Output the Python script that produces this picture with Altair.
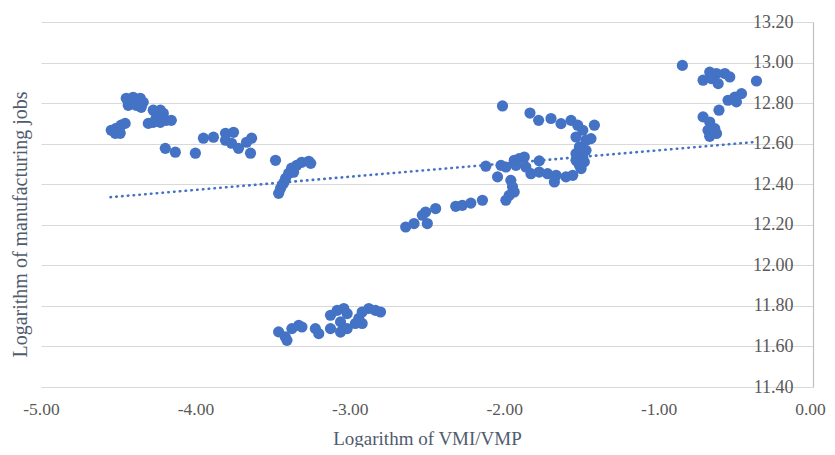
import altair as alt
import pandas as pd

# Logarithm of VMI/VMP (x) and logarithm of manufacturing jobs (y)
vmi_vmp = [
    -4.545, -4.513, -4.481, -4.455, -4.519, -4.487,
    -4.448, -4.403, -4.357, -4.338, -4.435, -4.383, -4.351,
    -4.273, -4.227, -4.208, -4.253, -4.221, -4.188, -4.156, -4.305, -4.273, -4.227,
    -4.195, -4.130, -4.000,
    -3.948, -3.883, -3.805, -3.753, -3.805, -3.766, -3.721, -3.643, -3.636, -3.669,
    -3.481,
    -3.461, -3.448, -3.429, -3.416, -3.396, -3.377, -3.344, -3.312, -3.266, -3.253, -3.364,
    -3.461, -3.418, -3.407, -3.375, -3.331, -3.310, -3.223, -3.201, -3.125, -3.125,
    -3.082, -3.039, -3.017, -3.060, -3.060, -3.017, -2.942, -2.920, -2.877, -2.834,
    -2.801, -2.964, -2.920,
    -2.011, -1.833, -1.777, -1.697, -1.632, -1.567, -1.524, -1.491, -1.416, -1.535,
    -1.470, -1.438, -1.513, -1.470, -1.535, -1.491, -1.535, -1.481, -1.513, -1.502,
    -1.556, -1.600, -1.664, -1.675, -1.719, -1.773, -1.773, -1.827, -1.860, -1.870,
    -1.903, -1.935, -1.924, -1.989, -2.021, -2.119, -2.043, -1.957, -1.946, -1.935,
    -1.968, -1.989,
    -2.444, -2.509, -2.530, -2.498, -2.584, -2.638, -2.314, -2.271, -2.216, -2.141,
    -0.846, -0.669, -0.625, -0.571, -0.539, -0.712, -0.658, -0.614, -0.366, -0.463,
    -0.506, -0.550, -0.496, -0.609, -0.712, -0.669, -0.636, -0.680, -0.669, -0.625,
]
mfg_jobs = [
    12.666, 12.676, 12.691, 12.700, 12.651, 12.651,
    12.824, 12.829, 12.824, 12.804, 12.789, 12.789, 12.779,
    12.765, 12.765, 12.750, 12.730, 12.725, 12.715, 12.715, 12.700, 12.705, 12.705,
    12.577, 12.558, 12.553,
    12.627, 12.632, 12.651, 12.656, 12.617, 12.602, 12.577, 12.553, 12.627, 12.607,
    12.518,
    12.355, 12.380, 12.405, 12.429, 12.454, 12.479, 12.493, 12.508, 12.513, 12.503, 12.459,
    11.672, 11.647, 11.630, 11.688, 11.704, 11.696, 11.688, 11.663, 11.688, 11.754,
    11.778, 11.787, 11.762, 11.721, 11.671, 11.688, 11.738, 11.770, 11.787, 11.778,
    11.770, 11.713, 11.713,
    12.786, 12.751, 12.715, 12.724, 12.699, 12.715, 12.691, 12.666, 12.691, 12.633,
    12.617, 12.625, 12.584, 12.567, 12.551, 12.534, 12.518, 12.510, 12.493, 12.477,
    12.444, 12.436, 12.444, 12.411, 12.452, 12.460, 12.515, 12.452, 12.485, 12.534,
    12.526, 12.518, 12.493, 12.485, 12.493, 12.489, 12.436, 12.419, 12.387, 12.362,
    12.345, 12.321,
    12.280, 12.263, 12.247, 12.206, 12.206, 12.189, 12.291, 12.296, 12.307, 12.321,
    12.986, 12.953, 12.946, 12.946, 12.929, 12.913, 12.921, 12.896, 12.909, 12.847,
    12.830, 12.814, 12.806, 12.765, 12.732, 12.707, 12.674, 12.666, 12.636, 12.650,
]

# Linear trendline end points, as drawn in the picture
trend_x = [-4.55, -0.39]
trend_y = [12.336, 12.607]

x_ticks = [-5.0, -4.0, -3.0, -2.0, -1.0, 0.0]
y_ticks = [11.4, 11.6, 11.8, 12.0, 12.2, 12.4, 12.6, 12.8, 13.0, 13.2]

df = pd.DataFrame({"x": vmi_vmp, "y": mfg_jobs})
trend_df = pd.DataFrame({"x": trend_x, "y": trend_y})

BLUE = "#4472C4"
LABEL = "#595959"
TITLE = "#4F5B6E"
FONT = "Liberation Serif"
fmt = "datum.value < 0 ? '-' + format(-datum.value, '.2f') : format(datum.value, '.2f')"

x_enc = alt.X(
    "x:Q",
    scale=alt.Scale(domain=[-5, 0], nice=False, zero=False),
    axis=alt.Axis(
        values=x_ticks, labelExpr=fmt, grid=False, domain=False, ticks=False,
        labelFlush=False, labelPadding=13, labelFontSize=17.5, labelColor=LABEL,
        labelFont=FONT,
        labelOffset={"condition": {"test": "datum.value == 0", "value": -3}, "value": 0},
        title="Logarithm of VMI/VMP", titleFont=FONT, titleFontSize=19,
        titleFontWeight="normal", titleColor=TITLE, titleY=57,
        titleBaseline="alphabetic",
    ),
)
y_enc = alt.Y(
    "y:Q",
    scale=alt.Scale(domain=[11.4, 13.2], nice=False, zero=False),
    axis=alt.Axis(
        orient="right", values=y_ticks, labelExpr=fmt, grid=True,
        gridColor="#D9D9D9", gridWidth=1.2, domain=True, domainColor="#BFBFBF",
        domainWidth=1.2, ticks=False, labelAlign="right", labelPadding=-20,
        labelBaseline="middle", labelFlush=False,
        labelFontSize=18, labelColor=LABEL, labelFont=FONT,
        title="Logarithm of manufacturing jobs", titleFont=FONT, titleFontSize=20,
        titleFontWeight="normal", titleColor=TITLE, titleAngle=270,
        titleX=-793, titleY=202, titleAlign="center", titleBaseline="middle",
    ),
)

points = alt.Chart(df).mark_circle(size=125, color=BLUE, opacity=1).encode(x=x_enc, y=y_enc)

trend = (
    alt.Chart(trend_df)
    .mark_line(color=BLUE, strokeWidth=2.6, strokeDash=[0.5, 5.3], strokeCap="round")
    .encode(x="x:Q", y="y:Q")
)

chart = (
    alt.layer(points, trend)
    .properties(
        width=772, height=365,
        autosize=alt.AutoSizeParams(type="none"),
        padding={"left": 33, "top": 14, "right": 14, "bottom": 60},
    )
    .configure_view(stroke=None)
)

chart.save("out.html", embed_options={"renderer": "svg", "actions": False})
